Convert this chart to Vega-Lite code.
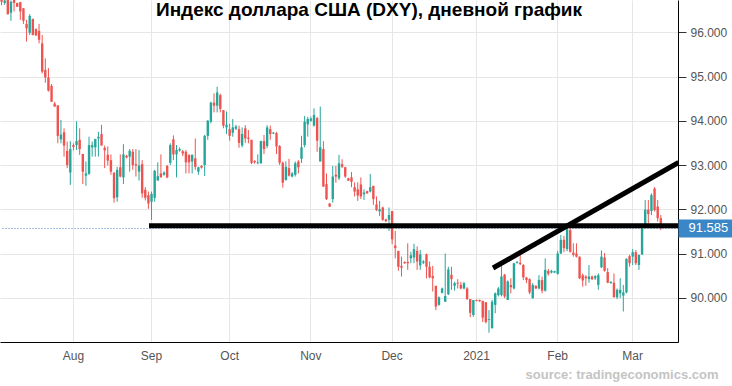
{
  "$schema": "https://vega.github.io/schema/vega-lite/v6.json",
  "width": 678,
  "height": 342,
  "autosize": {"type": "none"},
  "padding": {"left": 0, "top": 0, "right": 54, "bottom": 44},
  "background": "white",
  "config": {"view": {"stroke": null}, "font": "Liberation Sans"},
  "title": {"text": "Индекс доллара США (DXY), дневной график", "fontSize": 19, "fontWeight": "bold", "color": "#000000", "anchor": "middle", "frame": "group", "offset": -18, "baseline": "alphabetic", "dx": 30, "dy": 17, "font": "Liberation Sans"},
  "datasets": {
    "ohlc": [
      {"d":"2020-07-06","o":96.76,"h":96.85,"l":96.61,"c":96.69},
      {"d":"2020-07-07","o":96.66,"h":96.80,"l":96.62,"c":96.72},
      {"d":"2020-07-08","o":96.78,"h":96.85,"l":96.40,"c":96.41},
      {"d":"2020-07-09","o":96.44,"h":96.72,"l":96.26,"c":96.69},
      {"d":"2020-07-10","o":96.75,"h":96.80,"l":96.47,"c":96.66},
      {"d":"2020-07-12","o":96.66,"h":96.67,"l":96.57,"c":96.58},
      {"d":"2020-07-13","o":96.68,"h":96.69,"l":96.28,"c":96.47},
      {"d":"2020-07-14","o":96.54,"h":96.55,"l":96.19,"c":96.26},
      {"d":"2020-07-15","o":96.19,"h":96.28,"l":95.79,"c":96.09},
      {"d":"2020-07-16","o":95.99,"h":96.41,"l":95.94,"c":96.37},
      {"d":"2020-07-17","o":96.30,"h":96.31,"l":95.93,"c":95.94},
      {"d":"2020-07-19","o":96.07,"h":96.09,"l":95.92,"c":95.93},
      {"d":"2020-07-20","o":96.03,"h":96.19,"l":95.75,"c":95.83},
      {"d":"2020-07-21","o":95.75,"h":95.94,"l":95.07,"c":95.11},
      {"d":"2020-07-22","o":95.15,"h":95.41,"l":94.86,"c":94.98},
      {"d":"2020-07-23","o":94.98,"h":95.19,"l":94.66,"c":94.68},
      {"d":"2020-07-24","o":94.79,"h":94.83,"l":94.43,"c":94.43},
      {"d":"2020-07-26","o":94.39,"h":94.43,"l":94.32,"c":94.32},
      {"d":"2020-07-27","o":94.35,"h":94.35,"l":93.49,"c":93.66},
      {"d":"2020-07-28","o":93.58,"h":94.02,"l":93.49,"c":93.69},
      {"d":"2020-07-29","o":93.74,"h":93.83,"l":93.19,"c":93.44},
      {"d":"2020-07-30","o":93.32,"h":93.53,"l":92.93,"c":93.00},
      {"d":"2020-07-31","o":92.83,"h":93.54,"l":92.55,"c":93.36},
      {"d":"2020-08-02","o":93.45,"h":93.49,"l":93.33,"c":93.41},
      {"d":"2020-08-03","o":93.45,"h":93.99,"l":93.34,"c":93.54},
      {"d":"2020-08-04","o":93.57,"h":93.83,"l":93.23,"c":93.36},
      {"d":"2020-08-05","o":93.25,"h":93.25,"l":92.57,"c":92.85},
      {"d":"2020-08-06","o":92.76,"h":93.08,"l":92.53,"c":92.81},
      {"d":"2020-08-07","o":92.80,"h":93.64,"l":92.78,"c":93.45},
      {"d":"2020-08-09","o":93.40,"h":93.53,"l":93.19,"c":93.45},
      {"d":"2020-08-10","o":93.40,"h":93.59,"l":93.19,"c":93.59},
      {"d":"2020-08-11","o":93.60,"h":93.75,"l":93.19,"c":93.64},
      {"d":"2020-08-12","o":93.70,"h":93.91,"l":93.44,"c":93.44},
      {"d":"2020-08-13","o":93.39,"h":93.44,"l":92.93,"c":93.33},
      {"d":"2020-08-14","o":93.23,"h":93.42,"l":92.99,"c":93.10},
      {"d":"2020-08-17","o":93.11,"h":93.24,"l":92.78,"c":92.85},
      {"d":"2020-08-18","o":92.83,"h":92.83,"l":92.15,"c":92.25},
      {"d":"2020-08-19","o":92.27,"h":92.96,"l":92.17,"c":92.89},
      {"d":"2020-08-20","o":92.95,"h":93.24,"l":92.72,"c":92.74},
      {"d":"2020-08-21","o":92.72,"h":93.47,"l":92.57,"c":93.24},
      {"d":"2020-08-23","o":93.21,"h":93.23,"l":93.15,"c":93.17},
      {"d":"2020-08-24","o":93.19,"h":93.36,"l":92.85,"c":93.32},
      {"d":"2020-08-25","o":93.30,"h":93.36,"l":92.89,"c":93.00},
      {"d":"2020-08-26","o":93.02,"h":93.36,"l":92.74,"c":92.99},
      {"d":"2020-08-27","o":92.85,"h":93.34,"l":92.65,"c":92.99},
      {"d":"2020-08-28","o":93.02,"h":93.11,"l":92.26,"c":92.36},
      {"d":"2020-08-30","o":92.44,"h":92.50,"l":92.20,"c":92.26},
      {"d":"2020-08-31","o":92.32,"h":92.40,"l":92.01,"c":92.13},
      {"d":"2020-09-01","o":92.17,"h":92.40,"l":91.76,"c":92.35},
      {"d":"2020-09-02","o":92.26,"h":92.89,"l":92.17,"c":92.87},
      {"d":"2020-09-03","o":92.65,"h":93.06,"l":92.65,"c":92.75},
      {"d":"2020-09-04","o":92.81,"h":93.24,"l":92.72,"c":92.72},
      {"d":"2020-09-06","o":92.78,"h":92.86,"l":92.76,"c":92.83},
      {"d":"2020-09-07","o":92.98,"h":93.00,"l":92.70,"c":92.72},
      {"d":"2020-09-08","o":93.05,"h":93.49,"l":93.00,"c":93.45},
      {"d":"2020-09-09","o":93.58,"h":93.67,"l":93.11,"c":93.24},
      {"d":"2020-09-10","o":93.24,"h":93.45,"l":92.72,"c":93.34},
      {"d":"2020-09-11","o":93.33,"h":93.40,"l":93.30,"c":93.36},
      {"d":"2020-09-13","o":93.31,"h":93.34,"l":93.20,"c":93.26},
      {"d":"2020-09-14","o":93.30,"h":93.34,"l":92.81,"c":93.06},
      {"d":"2020-09-15","o":93.23,"h":93.24,"l":92.81,"c":93.06},
      {"d":"2020-09-16","o":93.08,"h":93.24,"l":92.81,"c":93.23},
      {"d":"2020-09-17","o":93.15,"h":93.60,"l":92.89,"c":92.96},
      {"d":"2020-09-18","o":92.85,"h":92.96,"l":92.78,"c":92.95},
      {"d":"2020-09-20","o":92.98,"h":93.00,"l":92.92,"c":92.94},
      {"d":"2020-09-21","o":93.00,"h":93.68,"l":92.75,"c":93.66},
      {"d":"2020-09-22","o":93.66,"h":94.02,"l":93.57,"c":94.00},
      {"d":"2020-09-23","o":93.98,"h":94.43,"l":93.94,"c":94.41},
      {"d":"2020-09-24","o":94.41,"h":94.62,"l":94.19,"c":94.34},
      {"d":"2020-09-25","o":94.34,"h":94.77,"l":94.19,"c":94.64},
      {"d":"2020-09-28","o":94.58,"h":94.61,"l":94.19,"c":94.27},
      {"d":"2020-09-29","o":94.24,"h":94.24,"l":93.83,"c":93.89},
      {"d":"2020-09-30","o":93.85,"h":94.21,"l":93.70,"c":93.91},
      {"d":"2020-10-01","o":93.81,"h":93.93,"l":93.55,"c":93.66},
      {"d":"2020-10-02","o":93.73,"h":94.04,"l":93.64,"c":93.85},
      {"d":"2020-10-04","o":93.82,"h":93.91,"l":93.79,"c":93.87},
      {"d":"2020-10-05","o":93.81,"h":93.89,"l":93.39,"c":93.50},
      {"d":"2020-10-06","o":93.44,"h":93.85,"l":93.40,"c":93.70},
      {"d":"2020-10-07","o":93.83,"h":93.90,"l":93.50,"c":93.60},
      {"d":"2020-10-08","o":93.62,"h":93.79,"l":93.49,"c":93.59},
      {"d":"2020-10-09","o":93.57,"h":93.57,"l":93.02,"c":93.05},
      {"d":"2020-10-11","o":93.09,"h":93.11,"l":93.03,"c":93.06},
      {"d":"2020-10-12","o":93.04,"h":93.24,"l":93.02,"c":93.06},
      {"d":"2020-10-13","o":93.04,"h":93.55,"l":93.03,"c":93.54},
      {"d":"2020-10-14","o":93.54,"h":93.68,"l":93.25,"c":93.36},
      {"d":"2020-10-15","o":93.43,"h":93.90,"l":93.38,"c":93.85},
      {"d":"2020-10-16","o":93.81,"h":93.89,"l":93.57,"c":93.70},
      {"d":"2020-10-18","o":93.71,"h":93.75,"l":93.70,"c":93.73},
      {"d":"2020-10-19","o":93.72,"h":93.75,"l":93.25,"c":93.42},
      {"d":"2020-10-20","o":93.43,"h":93.45,"l":93.00,"c":93.05},
      {"d":"2020-10-21","o":93.05,"h":93.08,"l":92.49,"c":92.60},
      {"d":"2020-10-22","o":92.66,"h":93.08,"l":92.65,"c":92.96},
      {"d":"2020-10-23","o":92.93,"h":93.14,"l":92.74,"c":92.76},
      {"d":"2020-10-25","o":92.74,"h":92.84,"l":92.72,"c":92.81},
      {"d":"2020-10-26","o":92.78,"h":93.08,"l":92.74,"c":93.04},
      {"d":"2020-10-27","o":93.08,"h":93.11,"l":92.81,"c":92.95},
      {"d":"2020-10-28","o":93.14,"h":93.66,"l":93.05,"c":93.40},
      {"d":"2020-10-29","o":93.45,"h":94.11,"l":93.40,"c":93.98},
      {"d":"2020-10-30","o":93.92,"h":94.09,"l":93.64,"c":94.04},
      {"d":"2020-11-01","o":94.00,"h":94.09,"l":93.98,"c":94.05},
      {"d":"2020-11-02","o":93.89,"h":94.28,"l":93.87,"c":94.13},
      {"d":"2020-11-03","o":94.06,"h":94.09,"l":93.30,"c":93.55},
      {"d":"2020-11-04","o":93.08,"h":94.32,"l":93.08,"c":93.40},
      {"d":"2020-11-05","o":93.36,"h":93.54,"l":92.51,"c":92.51},
      {"d":"2020-11-06","o":92.57,"h":92.81,"l":92.21,"c":92.23},
      {"d":"2020-11-08","o":92.13,"h":92.14,"l":92.05,"c":92.06},
      {"d":"2020-11-09","o":92.23,"h":92.98,"l":92.15,"c":92.74},
      {"d":"2020-11-10","o":92.78,"h":92.98,"l":92.60,"c":92.74},
      {"d":"2020-11-11","o":92.70,"h":93.23,"l":92.66,"c":93.04},
      {"d":"2020-11-12","o":93.02,"h":93.13,"l":92.93,"c":92.96},
      {"d":"2020-11-13","o":92.95,"h":92.96,"l":92.71,"c":92.74},
      {"d":"2020-11-15","o":92.70,"h":92.71,"l":92.64,"c":92.65},
      {"d":"2020-11-16","o":92.72,"h":92.84,"l":92.50,"c":92.62},
      {"d":"2020-11-17","o":92.50,"h":92.61,"l":92.29,"c":92.40},
      {"d":"2020-11-18","o":92.45,"h":92.61,"l":92.19,"c":92.31},
      {"d":"2020-11-19","o":92.56,"h":92.72,"l":92.23,"c":92.29},
      {"d":"2020-11-20","o":92.34,"h":92.45,"l":92.21,"c":92.38},
      {"d":"2020-11-22","o":92.41,"h":92.42,"l":92.35,"c":92.36},
      {"d":"2020-11-23","o":92.40,"h":92.80,"l":92.38,"c":92.50},
      {"d":"2020-11-24","o":92.53,"h":92.53,"l":92.10,"c":92.23},
      {"d":"2020-11-25","o":92.11,"h":92.29,"l":91.96,"c":91.98},
      {"d":"2020-11-26","o":91.95,"h":92.19,"l":91.85,"c":92.00},
      {"d":"2020-11-27","o":92.04,"h":92.06,"l":91.74,"c":91.76},
      {"d":"2020-11-29","o":91.77,"h":91.79,"l":91.71,"c":91.73},
      {"d":"2020-11-30","o":91.76,"h":92.04,"l":91.51,"c":91.87},
      {"d":"2020-12-01","o":91.96,"h":91.96,"l":91.21,"c":91.32},
      {"d":"2020-12-02","o":91.18,"h":91.51,"l":90.89,"c":91.12},
      {"d":"2020-12-03","o":91.06,"h":91.06,"l":90.61,"c":90.70},
      {"d":"2020-12-04","o":90.72,"h":90.93,"l":90.48,"c":90.68},
      {"d":"2020-12-06","o":90.81,"h":90.82,"l":90.77,"c":90.78},
      {"d":"2020-12-07","o":90.81,"h":91.23,"l":90.63,"c":90.78},
      {"d":"2020-12-08","o":90.89,"h":91.04,"l":90.78,"c":90.96},
      {"d":"2020-12-09","o":90.91,"h":91.22,"l":90.78,"c":91.10},
      {"d":"2020-12-10","o":91.06,"h":91.16,"l":90.63,"c":90.82},
      {"d":"2020-12-11","o":90.73,"h":91.08,"l":90.63,"c":90.98},
      {"d":"2020-12-13","o":90.79,"h":90.85,"l":90.76,"c":90.82},
      {"d":"2020-12-14","o":90.98,"h":91.00,"l":90.44,"c":90.70},
      {"d":"2020-12-15","o":90.70,"h":90.82,"l":90.44,"c":90.46},
      {"d":"2020-12-16","o":90.49,"h":90.72,"l":90.14,"c":90.44},
      {"d":"2020-12-17","o":90.27,"h":90.27,"l":89.72,"c":89.80},
      {"d":"2020-12-18","o":89.84,"h":90.03,"l":89.82,"c":90.01},
      {"d":"2020-12-20","o":90.11,"h":90.23,"l":90.10,"c":90.21},
      {"d":"2020-12-21","o":89.91,"h":91.00,"l":89.91,"c":90.04},
      {"d":"2020-12-22","o":90.08,"h":90.70,"l":90.06,"c":90.64},
      {"d":"2020-12-23","o":90.52,"h":90.70,"l":90.18,"c":90.42},
      {"d":"2020-12-24","o":90.27,"h":90.36,"l":90.16,"c":90.33},
      {"d":"2020-12-25","o":90.34,"h":90.42,"l":90.21,"c":90.32},
      {"d":"2020-12-27","o":90.29,"h":90.36,"l":90.19,"c":90.21},
      {"d":"2020-12-28","o":90.21,"h":90.36,"l":90.19,"c":90.33},
      {"d":"2020-12-29","o":90.21,"h":90.24,"l":89.95,"c":89.97},
      {"d":"2020-12-30","o":89.97,"h":89.97,"l":89.56,"c":89.66},
      {"d":"2020-12-31","o":89.61,"h":89.95,"l":89.57,"c":89.95},
      {"d":"2021-01-01","o":89.95,"h":89.96,"l":89.92,"c":89.93},
      {"d":"2021-01-03","o":89.95,"h":89.96,"l":89.91,"c":89.92},
      {"d":"2021-01-04","o":89.93,"h":89.93,"l":89.45,"c":89.55},
      {"d":"2021-01-05","o":89.90,"h":89.90,"l":89.42,"c":89.45},
      {"d":"2021-01-06","o":89.50,"h":89.72,"l":89.21,"c":89.52},
      {"d":"2021-01-07","o":89.31,"h":89.95,"l":89.31,"c":89.91},
      {"d":"2021-01-08","o":89.84,"h":90.12,"l":89.65,"c":90.10},
      {"d":"2021-01-10","o":90.06,"h":90.24,"l":90.03,"c":90.21},
      {"d":"2021-01-11","o":90.06,"h":90.74,"l":90.03,"c":90.48},
      {"d":"2021-01-12","o":90.52,"h":90.54,"l":89.99,"c":90.03},
      {"d":"2021-01-13","o":89.95,"h":90.39,"l":89.95,"c":90.37},
      {"d":"2021-01-14","o":90.29,"h":90.44,"l":90.10,"c":90.24},
      {"d":"2021-01-15","o":90.21,"h":90.79,"l":90.19,"c":90.78},
      {"d":"2021-01-17","o":90.79,"h":90.83,"l":90.77,"c":90.81},
      {"d":"2021-01-18","o":90.79,"h":90.97,"l":90.74,"c":90.76},
      {"d":"2021-01-19","o":90.74,"h":90.76,"l":90.40,"c":90.46},
      {"d":"2021-01-20","o":90.46,"h":90.47,"l":90.33,"c":90.40},
      {"d":"2021-01-21","o":90.42,"h":90.44,"l":90.08,"c":90.12},
      {"d":"2021-01-22","o":89.99,"h":90.33,"l":89.98,"c":90.29},
      {"d":"2021-01-24","o":90.27,"h":90.28,"l":90.20,"c":90.21},
      {"d":"2021-01-25","o":90.21,"h":90.51,"l":90.19,"c":90.40},
      {"d":"2021-01-26","o":90.40,"h":90.48,"l":90.10,"c":90.16},
      {"d":"2021-01-27","o":90.16,"h":90.89,"l":90.14,"c":90.63},
      {"d":"2021-01-28","o":90.61,"h":90.65,"l":90.50,"c":90.54},
      {"d":"2021-01-29","o":90.57,"h":90.63,"l":90.55,"c":90.61},
      {"d":"2021-01-31","o":90.57,"h":90.61,"l":90.56,"c":90.60},
      {"d":"2021-02-01","o":90.54,"h":91.06,"l":90.52,"c":91.00},
      {"d":"2021-02-02","o":91.00,"h":91.42,"l":90.99,"c":91.31},
      {"d":"2021-02-03","o":91.31,"h":91.40,"l":91.03,"c":91.12},
      {"d":"2021-02-04","o":91.10,"h":91.60,"l":91.05,"c":91.55},
      {"d":"2021-02-05","o":91.53,"h":91.64,"l":91.02,"c":91.04},
      {"d":"2021-02-07","o":91.02,"h":91.23,"l":90.93,"c":90.97},
      {"d":"2021-02-08","o":91.00,"h":91.23,"l":90.91,"c":90.93},
      {"d":"2021-02-09","o":90.93,"h":90.93,"l":90.42,"c":90.44},
      {"d":"2021-02-10","o":90.51,"h":90.55,"l":90.25,"c":90.39},
      {"d":"2021-02-11","o":90.48,"h":90.51,"l":90.27,"c":90.44},
      {"d":"2021-02-12","o":90.42,"h":90.74,"l":90.34,"c":90.48},
      {"d":"2021-02-14","o":90.48,"h":90.50,"l":90.40,"c":90.42},
      {"d":"2021-02-15","o":90.44,"h":90.51,"l":90.40,"c":90.49},
      {"d":"2021-02-16","o":90.29,"h":90.55,"l":90.18,"c":90.51},
      {"d":"2021-02-17","o":90.69,"h":91.07,"l":90.67,"c":90.93},
      {"d":"2021-02-18","o":90.91,"h":91.01,"l":90.59,"c":90.61},
      {"d":"2021-02-19","o":90.58,"h":90.67,"l":90.33,"c":90.34},
      {"d":"2021-02-21","o":90.33,"h":90.37,"l":90.32,"c":90.36},
      {"d":"2021-02-22","o":90.34,"h":90.55,"l":90.01,"c":90.01},
      {"d":"2021-02-23","o":90.01,"h":90.21,"l":89.97,"c":90.18},
      {"d":"2021-02-24","o":90.10,"h":90.44,"l":89.99,"c":90.18},
      {"d":"2021-02-25","o":90.05,"h":90.29,"l":89.69,"c":90.12},
      {"d":"2021-02-26","o":90.12,"h":90.89,"l":90.10,"c":90.88},
      {"d":"2021-02-28","o":90.94,"h":90.97,"l":90.70,"c":90.78},
      {"d":"2021-03-01","o":90.93,"h":91.10,"l":90.74,"c":91.03},
      {"d":"2021-03-02","o":91.03,"h":91.08,"l":90.74,"c":90.78},
      {"d":"2021-03-03","o":90.74,"h":90.97,"l":90.63,"c":90.97},
      {"d":"2021-03-04","o":90.98,"h":91.65,"l":90.97,"c":91.61},
      {"d":"2021-03-05","o":91.61,"h":92.21,"l":91.59,"c":91.99},
      {"d":"2021-03-07","o":91.99,"h":92.21,"l":91.68,"c":91.89},
      {"d":"2021-03-08","o":91.96,"h":92.36,"l":91.87,"c":92.32},
      {"d":"2021-03-09","o":92.47,"h":92.50,"l":91.95,"c":91.98},
      {"d":"2021-03-10","o":92.06,"h":92.21,"l":91.72,"c":91.80},
      {"d":"2021-03-11","o":91.80,"h":91.87,"l":91.53,"c":91.585}
    ],
    "lines": [
      {"g":"h","d":"2020-09-01","v":91.63},
      {"g":"h","d":"2021-03-17","v":91.63},
      {"g":"t","d":"2021-01-08","v":90.70},
      {"g":"t","d":"2021-03-17","v":93.03}
    ]
  },
  "encoding": {
    "x": {
      "field": "d",
      "type": "ordinal",
      "sort": null,
      "scale": {
        "type": "band",
        "paddingInner": 0,
        "paddingOuter": 0,
        "domain": ["2020-07-06","2020-07-07","2020-07-08","2020-07-09","2020-07-10","2020-07-12","2020-07-13","2020-07-14","2020-07-15","2020-07-16","2020-07-17","2020-07-19","2020-07-20","2020-07-21","2020-07-22","2020-07-23","2020-07-24","2020-07-26","2020-07-27","2020-07-28","2020-07-29","2020-07-30","2020-07-31","2020-08-02","2020-08-03","2020-08-04","2020-08-05","2020-08-06","2020-08-07","2020-08-09","2020-08-10","2020-08-11","2020-08-12","2020-08-13","2020-08-14","2020-08-17","2020-08-18","2020-08-19","2020-08-20","2020-08-21","2020-08-23","2020-08-24","2020-08-25","2020-08-26","2020-08-27","2020-08-28","2020-08-30","2020-08-31","2020-09-01","2020-09-02","2020-09-03","2020-09-04","2020-09-06","2020-09-07","2020-09-08","2020-09-09","2020-09-10","2020-09-11","2020-09-13","2020-09-14","2020-09-15","2020-09-16","2020-09-17","2020-09-18","2020-09-20","2020-09-21","2020-09-22","2020-09-23","2020-09-24","2020-09-25","2020-09-28","2020-09-29","2020-09-30","2020-10-01","2020-10-02","2020-10-04","2020-10-05","2020-10-06","2020-10-07","2020-10-08","2020-10-09","2020-10-11","2020-10-12","2020-10-13","2020-10-14","2020-10-15","2020-10-16","2020-10-18","2020-10-19","2020-10-20","2020-10-21","2020-10-22","2020-10-23","2020-10-25","2020-10-26","2020-10-27","2020-10-28","2020-10-29","2020-10-30","2020-11-01","2020-11-02","2020-11-03","2020-11-04","2020-11-05","2020-11-06","2020-11-08","2020-11-09","2020-11-10","2020-11-11","2020-11-12","2020-11-13","2020-11-15","2020-11-16","2020-11-17","2020-11-18","2020-11-19","2020-11-20","2020-11-22","2020-11-23","2020-11-24","2020-11-25","2020-11-26","2020-11-27","2020-11-29","2020-11-30","2020-12-01","2020-12-02","2020-12-03","2020-12-04","2020-12-06","2020-12-07","2020-12-08","2020-12-09","2020-12-10","2020-12-11","2020-12-13","2020-12-14","2020-12-15","2020-12-16","2020-12-17","2020-12-18","2020-12-20","2020-12-21","2020-12-22","2020-12-23","2020-12-24","2020-12-25","2020-12-27","2020-12-28","2020-12-29","2020-12-30","2020-12-31","2021-01-01","2021-01-03","2021-01-04","2021-01-05","2021-01-06","2021-01-07","2021-01-08","2021-01-10","2021-01-11","2021-01-12","2021-01-13","2021-01-14","2021-01-15","2021-01-17","2021-01-18","2021-01-19","2021-01-20","2021-01-21","2021-01-22","2021-01-24","2021-01-25","2021-01-26","2021-01-27","2021-01-28","2021-01-29","2021-01-31","2021-02-01","2021-02-02","2021-02-03","2021-02-04","2021-02-05","2021-02-07","2021-02-08","2021-02-09","2021-02-10","2021-02-11","2021-02-12","2021-02-14","2021-02-15","2021-02-16","2021-02-17","2021-02-18","2021-02-19","2021-02-21","2021-02-22","2021-02-23","2021-02-24","2021-02-25","2021-02-26","2021-02-28","2021-03-01","2021-03-02","2021-03-03","2021-03-04","2021-03-05","2021-03-07","2021-03-08","2021-03-09","2021-03-10","2021-03-11","2021-03-12","2021-03-14","2021-03-15","2021-03-16","2021-03-17"]
      },
      "axis": {
        "orient": "bottom",
        "values": ["2020-08-02","2020-09-01","2020-10-01","2020-11-01","2020-12-01","2021-01-01","2021-02-01","2021-03-01"],
        "labelExpr": "datum.value == '2020-08-02' ? 'Aug' : datum.value == '2020-09-01' ? 'Sep' : datum.value == '2020-10-01' ? 'Oct' : datum.value == '2020-11-01' ? 'Nov' : datum.value == '2020-12-01' ? 'Dec' : datum.value == '2021-01-01' ? '2021' : datum.value == '2021-02-01' ? 'Feb' : 'Mar'",
        "bandPosition": 0.5,
        "grid": true,
        "gridColor": "#e6e6e6",
        "gridWidth": 1,
        "domain": true,
        "domainColor": "#000000",
        "domainWidth": 1,
        "ticks": false,
        "tickSize": 0,
        "labelAngle": 0,
        "labelColor": "#555555",
        "labelFont": "Liberation Sans",
        "labelFontSize": 12,
        "labelPadding": 8,
        "title": "source: tradingeconomics.com",
        "titleAnchor": "end",
        "titleAlign": "right",
        "titleX": 718,
        "titleY": 36,
        "titleBaseline": "alphabetic",
        "titleColor": "#c4c4c4",
        "titleFont": "Liberation Sans",
        "titleFontSize": 13,
        "titleFontWeight": "bold"
      }
    }
  },
  "layer": [
    {
      "data": {"name": "ohlc"},
      "mark": {"type": "rule", "clip": true, "strokeWidth": 1},
      "encoding": {
        "y": {
          "field": "l",
          "type": "quantitative",
          "scale": {"domain": [89.0, 96.73], "nice": false, "zero": false},
          "axis": {
            "orient": "right",
            "values": [90, 91, 92, 93, 94, 95, 96],
            "format": ".3f",
            "grid": true,
            "gridColor": "#e6e6e6",
            "gridWidth": 1,
            "domain": true,
            "domainColor": "#000000",
            "domainWidth": 1,
            "ticks": true,
            "tickColor": "#333333",
            "tickSize": 8,
            "labelColor": "#555555",
            "labelFont": "Liberation Sans",
            "labelFontSize": 12,
            "labelPadding": 4,
            "title": null,
            "offset": 0
          }
        },
        "y2": {"field": "h"},
        "color": {"condition": {"test": "datum.c >= datum.o", "value": "#26a69a"}, "value": "#ef5350"}
      }
    },
    {
      "data": {"name": "ohlc"},
      "mark": {"type": "bar", "clip": true, "size": 2.4},
      "encoding": {
        "y": {"field": "o", "type": "quantitative", "axis": null},
        "y2": {"field": "c"},
        "color": {"condition": {"test": "datum.c >= datum.o", "value": "#26a69a"}, "value": "#ef5350"}
      }
    },
    {
      "data": {"name": "lines"},
      "mark": {"type": "line", "color": "#000000", "strokeWidth": 5, "strokeCap": "square", "clip": true},
      "encoding": {
        "y": {
          "field": "v",
          "type": "quantitative",
          "axis": {
            "orient": "right",
            "values": [91.585],
            "format": ".3f",
            "grid": true,
            "gridColor": "#4a86c5",
            "gridDash": [1, 2],
            "gridWidth": 1,
            "domain": false,
            "ticks": true,
            "tickColor": "#3a87c8",
            "tickWidth": 18,
            "tickSize": 54,
            "labelColor": "#ffffff",
            "labelFont": "Liberation Sans",
            "labelFontSize": 13,
            "labelPadding": -44,
            "labelAlign": "left",
            "title": null,
            "offset": 0
          }
        },
        "detail": {"field": "g"}
      }
    }
  ],
  "resolve": {"axis": {"y": "independent"}}
}
